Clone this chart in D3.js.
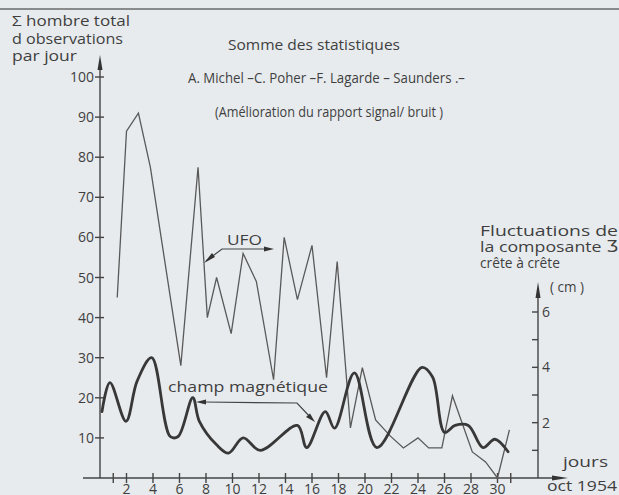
<!DOCTYPE html>
<html>
<head>
<meta charset="utf-8">
<script src="https://cdn.jsdelivr.net/npm/d3@7"></script>
<style>
    body { margin: 0; background: #e7ebee; }
    svg { display: block; }
    text { font-family: "Open Sans", "DejaVu Sans", sans-serif; fill: #3f3f3f; }
    .axis { stroke: #444; stroke-width: 1.4; fill: none; }
    .ufo { stroke: #595959; stroke-width: 1.3; fill: none; stroke-linejoin: miter; }
    .champ { stroke: #383838; stroke-width: 2.8; fill: none; stroke-linecap: round; }
    .pointer { stroke: #444; stroke-width: 1.2; fill: none; }
</style>
</head>
<body>
<svg width="619" height="495"></svg>
<script>
// UFO observations per day (thin line)
const ufoDays = [1.3, 2.0, 2.9, 3.8, 6.1, 7.4, 8.1, 8.8, 9.9, 10.8, 11.8, 13.1, 13.9, 14.9, 16.0, 17.1, 17.9, 18.9, 19.8, 20.8, 21.9, 22.9, 24.0, 24.8, 25.8, 26.6, 28.1, 29.1, 30.0, 30.9]
const ufoCounts = [45, 86.5, 91, 77.5, 28, 77.5, 40, 50, 36, 56, 49, 24.5, 60, 44.5, 58, 25, 54, 12.5, 27.5, 14.5, 10.5, 7.5, 10, 7.5, 7.5, 20.5, 6.5, 4, 0, 12]

// magnetic field Z fluctuations, cm (thick line)
const champDays = [0.15, 0.75, 1.96, 2.8, 3.9, 5.3, 5.9, 7.0, 7.5, 8.8, 9.7, 10.8, 12.1, 14.9, 15.6, 17.0, 17.7, 19.2, 20.9, 24.3, 25.1, 26.0, 26.8, 27.8, 28.9, 29.8, 30.8]
const champCm = [2.4, 3.45, 2.05, 3.5, 4.35, 1.5, 1.5, 2.9, 2.05, 1.2, 0.9, 1.45, 1.0, 1.9, 1.1, 2.4, 1.8, 3.8, 1.1, 4.0, 3.65, 1.65, 1.9, 1.9, 1.1, 1.4, 0.95]

const leftTicks = [10, 20, 30, 40, 50, 60, 70, 80, 90, 100]
const rightTicks = [1, 2, 3, 4, 5, 6]
const rightLabels = [2, 4, 6]
const dayTicks = [1, 2, 4, 6, 8, 10, 12, 14, 16, 18, 20, 22, 24, 26, 28, 30, 31]
const dayLabels = [2, 4, 6, 8, 10, 12, 14, 16, 18, 20, 22, 24, 26, 28, 30]

const svg = d3.select("svg")

const x = d3.scaleLinear()
    .domain([0, 31])
    .range([100, 510.75])

const yLeft = d3.scaleLinear()
    .domain([0, 100])
    .range([478, 77])

const yRight = d3.scaleLinear()
    .domain([0, 6])
    .range([478, 312])

// page edge at the top
svg.append("line")
    .attr("x1", 0).attr("x2", 619)
    .attr("y1", 9).attr("y2", 9)
    .attr("stroke", "#6a6a6a")
    .attr("stroke-width", 1.6)

// axes lines
const x0 = x(0)
const xR = 538

svg.append("path")
    .attr("class", "axis")
    .attr("d", `M${x0},${yLeft(0)} V62`)

svg.append("path")
    .attr("class", "axis")
    .attr("d", `M83,${yLeft(0)} H560`)

svg.append("path")
    .attr("class", "axis")
    .attr("d", `M${xR},${yRight(0)} V292`)

// arrow heads
svg.append("path")
    .attr("d", `M${x0},55 L${x0 - 2.5},70 L${x0 + 2.5},70 Z`)
    .attr("fill", "#333")
svg.append("path")
    .attr("d", `M${xR},282 L${xR - 2.5},298 L${xR + 2.5},298 Z`)
    .attr("fill", "#333")
svg.append("path")
    .attr("d", `M568,${yLeft(0)} L552,${yLeft(0) - 2.5} L552,${yLeft(0) + 2.5} Z`)
    .attr("fill", "#333")

// left ticks
svg.selectAll("line.lt")
    .data(leftTicks)
    .enter()
    .append("line")
    .attr("class", "axis")
    .attr("x1", x0 - 5).attr("x2", x0 + 4)
    .attr("y1", d => yLeft(d)).attr("y2", d => yLeft(d))

svg.selectAll("text.lt")
    .data(leftTicks)
    .enter()
    .append("text")
    .attr("class", "lt")
    .attr("x", x0 - 6)
    .attr("y", d => yLeft(d) + 5)
    .attr("text-anchor", "end")
    .attr("font-size", 14)
    .text(d => d)

// right ticks
svg.selectAll("line.rt")
    .data(rightTicks)
    .enter()
    .append("line")
    .attr("class", "axis")
    .attr("x1", xR - 6).attr("x2", xR)
    .attr("y1", d => yRight(d)).attr("y2", d => yRight(d))

svg.selectAll("text.rt")
    .data(rightLabels)
    .enter()
    .append("text")
    .attr("class", "rt")
    .attr("x", xR + 4)
    .attr("y", d => yRight(d) + 5)
    .attr("font-size", 14)
    .text(d => d)

// day ticks
svg.selectAll("line.dt")
    .data(dayTicks)
    .enter()
    .append("line")
    .attr("class", "axis")
    .attr("x1", d => x(d)).attr("x2", d => x(d))
    .attr("y1", yLeft(0) - 5).attr("y2", yLeft(0) + 5)

svg.selectAll("text.dt")
    .data(dayLabels)
    .enter()
    .append("text")
    .attr("class", "dt")
    .attr("x", d => x(d))
    .attr("y", 494)
    .attr("text-anchor", "middle")
    .attr("font-size", 14)
    .text(d => d)

// lines
const ufoLine = d3.line()
    .x((d, i) => x(ufoDays[i]))
    .y(d => yLeft(d))

svg.append("path")
    .datum(ufoCounts)
    .attr("class", "ufo")
    .attr("d", ufoLine)

const champLine = d3.line()
    .x((d, i) => x(champDays[i]))
    .y(d => yRight(d))
    .curve(d3.curveCatmullRom.alpha(0.5))

svg.append("path")
    .datum(champCm)
    .attr("class", "champ")
    .attr("d", champLine)

// pointers
svg.append("path")
    .attr("class", "pointer")
    .attr("d", "M206,261 L222,249 L268,249")
svg.append("path")
    .attr("d", "M274,249 L264,246.5 L264,251.5 Z")
    .attr("fill", "#333")
svg.append("path")
    .attr("d", "M204,263 L212,253 L215,257 Z")
    .attr("fill", "#333")

svg.append("path")
    .attr("class", "pointer")
    .attr("d", "M203,402 L297,403 L312,419")
svg.append("path")
    .attr("d", "M196,402 L206,399.5 L206,404.5 Z")
    .attr("fill", "#333")
svg.append("path")
    .attr("d", "M315,422 L306,417 L310,413.5 Z")
    .attr("fill", "#333")

// texts
const txt = (s, tx, ty, size, len) => {
    const t = svg.append("text")
        .attr("x", tx)
        .attr("y", ty)
        .attr("font-size", size)
        .text(s)
    if (len) t.attr("textLength", len).attr("lengthAdjust", "spacingAndGlyphs")
    return t
}

txt("Σ hombre total", 12, 26, 15, 118)
txt("d observations", 12, 44, 15, 111)
txt("par jour", 12, 61, 15, 65)

txt("Somme des statistiques", 228, 50, 15, 172)
txt("A. Michel –C. Poher –F. Lagarde – Saunders .–", 188, 83, 14, 277)
txt("(Amélioration du rapport signal/ bruit )", 215, 117, 14, 228)

txt("UFO", 227, 245, 14, 35)
txt("champ magnétique", 168, 392, 15, 160)

txt("Fluctuations de", 480, 236, 15, 138)
txt("la composante Ʒ", 480, 252, 15, 138)
txt("crête à crête", 480, 268, 14, 80)
txt("( cm )", 550, 292, 14, 34)

txt("jours", 563, 467, 15, 45)
txt("oct 1954", 547, 491, 15, 70)
</script>
</body>
</html>
